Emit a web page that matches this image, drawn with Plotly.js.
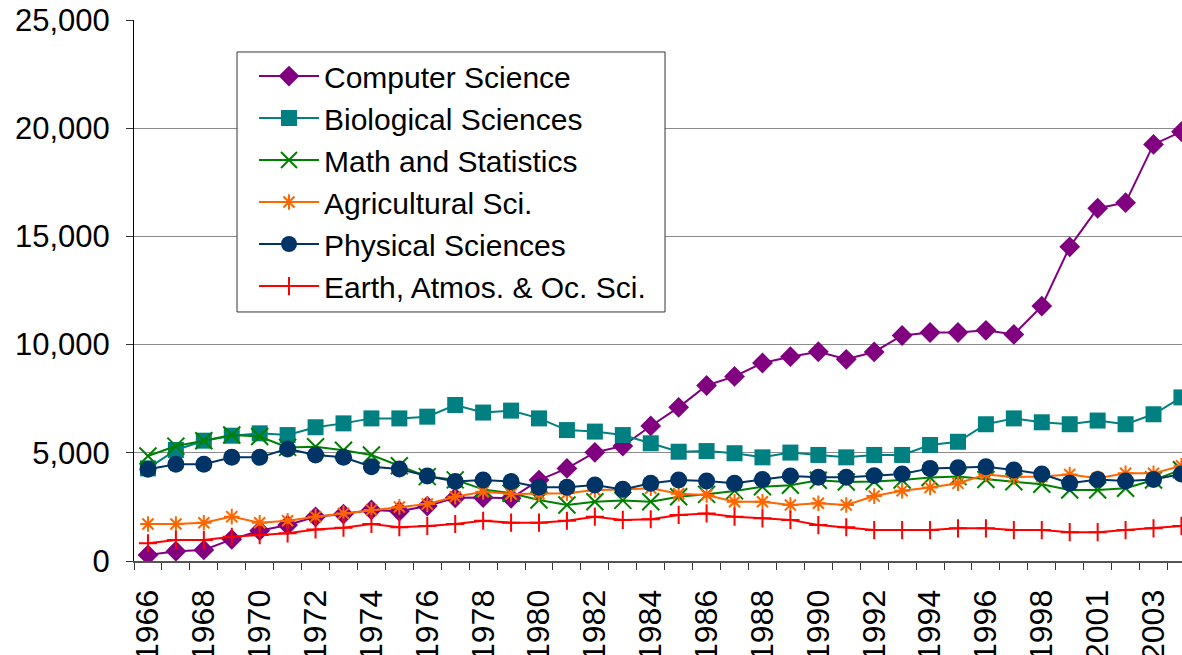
<!DOCTYPE html>
<html>
<head>
<meta charset="utf-8">
<script src="https://cdn.plot.ly/plotly-3.0.1.min.js"></script>
<style>html,body{margin:0;padding:0;background:#fff;}#chart{width:1182px;height:655px;}</style>
</head>
<body>
<div id="chart"></div>
<script>
const years = ["1966","1967","1968","1969","1970","1971","1972","1973","1974","1975","1976","1977","1978","1979","1980","1981","1982","1983","1984","1985","1986","1987","1988","1989","1990","1991","1992","1993","1994","1995","1996","1997","1998","2000","2001","2002","2003","2004"];

const computerScience = [280,450,510,1000,1400,1660,2040,2170,2360,2300,2540,2920,2930,2900,3740,4280,5020,5310,6240,7100,8110,8530,9150,9440,9670,9320,9660,10420,10560,10560,10660,10470,11780,14520,16300,16560,19250,19840];
const biologicalSciences = [4280,5130,5560,5790,5900,5820,6180,6360,6590,6590,6670,7210,6860,6950,6590,6050,5980,5820,5440,5050,5080,4980,4790,5010,4900,4790,4900,4900,5360,5510,6320,6590,6410,6320,6490,6320,6780,7560];
const mathStatistics = [4850,5310,5560,5820,5750,5250,5280,5120,4900,4400,3900,3750,3310,3130,2820,2590,2740,2800,2740,2970,3080,3240,3430,3500,3730,3650,3670,3740,3860,3900,3770,3660,3550,3280,3280,3360,3740,4220];
const agriculturalSci = [1710,1710,1770,2050,1770,1860,2050,2200,2360,2500,2630,2970,3200,3100,3100,3130,3280,3300,3360,3110,3050,2740,2740,2590,2670,2590,3000,3250,3400,3590,4000,3880,3910,4000,3820,4050,4050,4400];
const physicalSciences = [4240,4470,4470,4790,4790,5180,4900,4790,4360,4250,3930,3670,3740,3670,3410,3410,3510,3310,3590,3740,3700,3590,3770,3930,3870,3870,3940,4020,4280,4310,4360,4210,4020,3590,3770,3700,3770,4020];
const earthAtmosOcSci = [820,970,970,1120,1200,1280,1460,1540,1710,1560,1620,1710,1860,1770,1770,1860,2050,1900,1930,2130,2200,2050,1970,1900,1660,1560,1430,1430,1430,1510,1510,1430,1430,1330,1330,1430,1510,1620];

const seriesNames = ["Computer Science","Biological Sciences","Math and Statistics","Agricultural Sci.","Physical Sciences","Earth, Atmos. & Oc. Sci."];

const FONT = 'Liberation Sans, Arial, sans-serif';

const mk = (name, y, color, symbol, size, open) => ({
  type: 'scatter', mode: 'lines+markers', name: name, x: years, y: y,
  legendgroup: name,
  line: {color: color, width: 2},
  marker: open ? {symbol: symbol, size: size, color: color, line: {color: color, width: 2}}
               : {symbol: symbol, size: size, color: color, line: {width: 0}},
  hoverinfo: 'x+y+name'
});

const data = [
  mk(seriesNames[0], computerScience, '#800080', 'diamond', 16, false),
  mk(seriesNames[1], biologicalSciences, '#008080', 'square', 16, false),
  mk(seriesNames[2], mathStatistics, '#008000', 'x-thin-open', 17, true),
  mk(seriesNames[3], agriculturalSci, '#FF6600', 'asterisk-open', 13, true),
  mk(seriesNames[4], physicalSciences, '#003366', 'circle', 17, false),
  mk(seriesNames[5], earthAtmosOcSci, '#FF0000', 'cross-thin-open', 13, true)
];

const tickText = years.map((y, i) => (i % 2 === 0 ? y : ''));

const layout = {
  width: 1182, height: 655,
  margin: {l: 134, r: 0, t: 20, b: 94, pad: 0},
  paper_bgcolor: '#ffffff', plot_bgcolor: '#ffffff',
  font: {family: FONT, color: '#000000'},
  showlegend: true,
  legend: {
    x: 0.1145, y: 0.9445, xanchor: 'left', yanchor: 'top',
    bgcolor: 'rgba(0,0,0,0)', borderwidth: 0,
    font: {family: FONT, size: 30, color: '#000000'},
    tracegroupgap: 6, itemwidth: 60, traceorder: 'normal'
  },
  shapes: [{
    type: 'rect', xref: 'paper', yref: 'paper',
    x0: 0.0983, x1: 0.5067, y0: 0.4603, y1: 0.9409,
    fillcolor: '#ffffff', line: {color: '#333333', width: 1}, layer: 'above'
  }],
  xaxis: {
    type: 'category', range: [-0.5, 37.02],
    tickmode: 'array', tickvals: years, ticktext: tickText,
    tickson: 'boundaries', ticks: 'outside', ticklen: 7, tickcolor: '#333333', tickwidth: 1,
    tickangle: -90, tickfont: {size: 32, family: FONT},
    ticklabelstandoff: 14,
    showgrid: false, zeroline: false,
    showline: true, linecolor: '#555555', linewidth: 2
  },
  yaxis: {
    range: [0, 25000], tickmode: 'linear', tick0: 0, dtick: 5000,
    tickformat: ',d',
    ticks: 'outside', ticklen: 7, tickcolor: '#333333', tickwidth: 1,
    tickfont: {size: 31, family: FONT},
    ticklabelstandoff: 10,
    showgrid: true, gridcolor: '#8c8c8c', gridwidth: 1,
    zeroline: false, showline: true, linecolor: '#000000', linewidth: 1
  }
};

Plotly.newPlot('chart', data, layout, {displayModeBar: false, staticPlot: true});
</script>
</body>
</html>
